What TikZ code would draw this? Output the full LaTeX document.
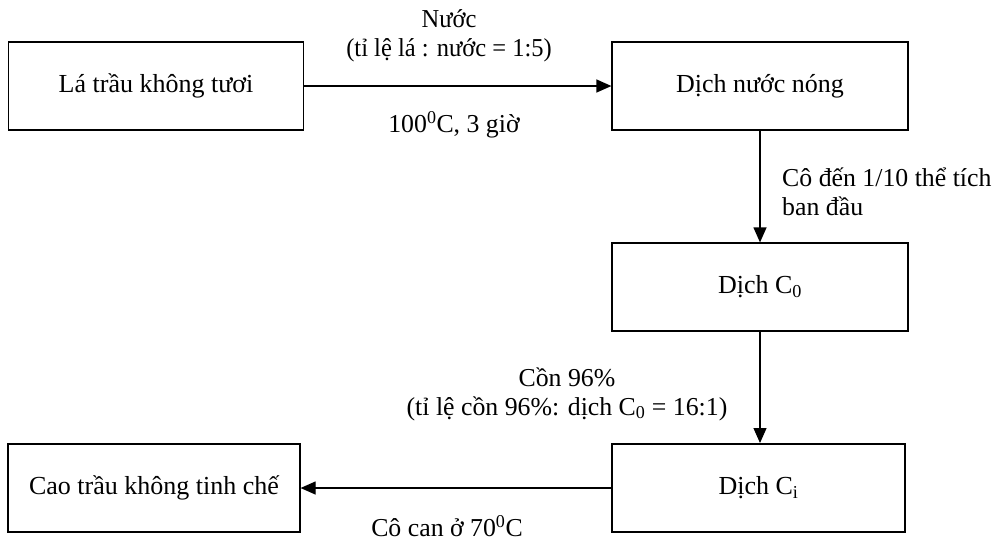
\documentclass[tikz,border=0pt]{standalone}
\usepackage{fontspec}
\setmainfont{Liberation Serif}
\usetikzlibrary{arrows.meta}
\begin{document}
\begin{tikzpicture}[x=1pt,y=-1pt,
  box/.style={draw,line width=1.2pt,minimum width=#1,minimum height=88pt,inner sep=0pt,font=\fontsize{26}{30}\selectfont},
  lbl/.style={font=\fontsize{25.8}{29}\selectfont,inner sep=0pt,align=center},
  conn/.style={line width=1.2pt,-{Triangle[length=15pt,width=13pt]}}]
\useasboundingbox (0,0) rectangle (993,542);
\node[box=295pt] (a) at (156,86) {Lá trầu không tươi};
\node[box=296pt] (b) at (760,86) {Dịch nước nóng};
\node[box=296pt] (c) at (760,287) {Dịch C\textsubscript{0}};
\node[box=293pt] (d) at (758.5,488) {Dịch C\textsubscript{i}};
\node[box=292pt] (e) at (154,488) {Cao trầu không tinh chế};
\draw[conn] (a) -- (b);
\draw[conn] (b.south -| c.north) -- (c.north);
\draw[conn] (c.south -| 760,0) -- (760,443) coordinate (dn);
\draw[conn] (d.west) -- (e.east);
\node[lbl,xscale=0.95] (l1) at (449,36) {Nước\\(tỉ lệ lá : nước = 1:5)};
\node[lbl] (l2) at (454,125) {100\textsuperscript{0}C, 3 giờ};
\node[lbl,align=left,anchor=west] (l3) at (782,192) {Cô đến 1/10 thể tích\\ban đầu};
\node[lbl] (l4) at (567,394) {Cồn 96\%\\(tỉ lệ cồn 96\%: dịch C\textsubscript{0} = 16:1)};
\node[lbl] (l5) at (447,526) {Cô can ở 70\textsuperscript{0}C};
\end{tikzpicture}
\end{document}
